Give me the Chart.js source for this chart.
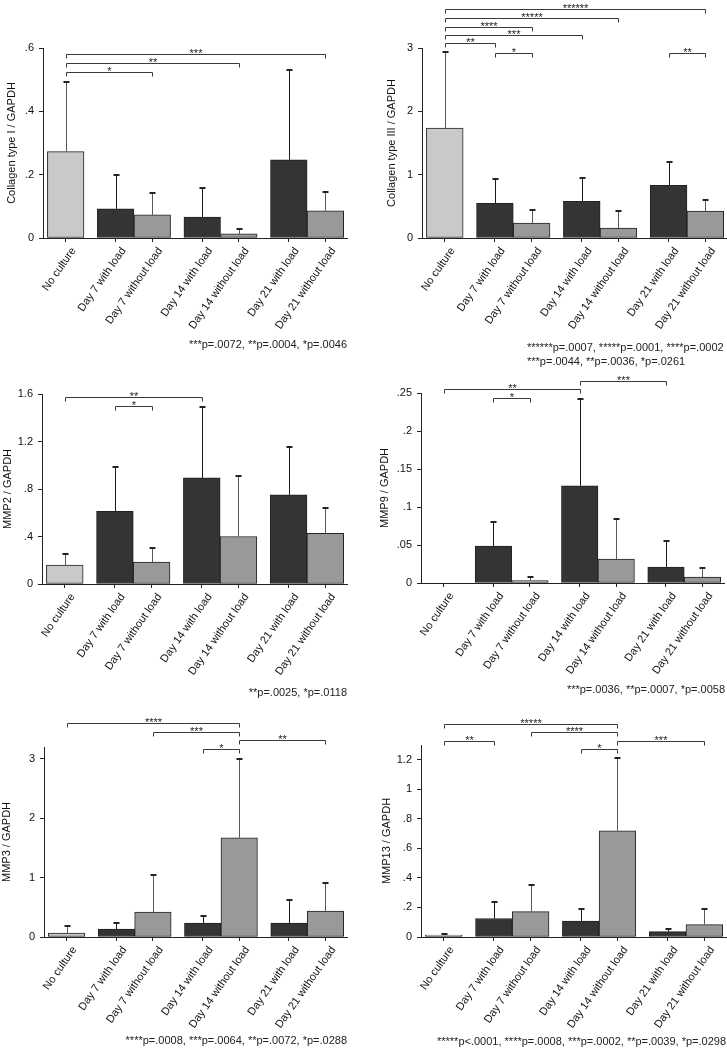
<!DOCTYPE html>
<html>
<head>
<meta charset="utf-8">
<script src="https://cdn.jsdelivr.net/npm/chart.js@4.4.0/dist/chart.umd.min.js"></script>
<style>
  body { margin: 0; background: #fff; width: 727px; height: 1050px; position: relative; overflow: hidden; }
  canvas { position: absolute; }
</style>
</head>
<body>
<canvas id="c1" width="364" height="360" style="left:0;top:0"></canvas>
<canvas id="c2" width="363" height="372" style="left:364px;top:0"></canvas>
<canvas id="c3" width="364" height="340" style="left:0;top:360px"></canvas>
<canvas id="c4" width="363" height="340" style="left:364px;top:360px"></canvas>
<canvas id="c5" width="364" height="350" style="left:0;top:700px"></canvas>
<canvas id="c6" width="363" height="350" style="left:364px;top:700px"></canvas>
<script>
// groups of the x axis
const categories = ['No culture', 'Day 7 with load', 'Day 7 without load', 'Day 14 with load',
  'Day 14 without load', 'Day 21 with load', 'Day 21 without load'];
const groupOf = [0, 1, 1, 2, 2, 3, 3];

// Collagen type I
const col1Mean  = [0.273, 0.092, 0.073, 0.066, 0.013, 0.247, 0.086];
const col1Upper = [0.494, 0.200, 0.142, 0.157, 0.030, 0.531, 0.144];
const col1Ticks = [0, 0.2, 0.4, 0.6];
const col1Sig   = [[0, 2, '*'], [0, 4, '**'], [0, 6, '***']];
const col1Notes = ['***p=.0072, **p=.0004, *p=.0046'];

// Collagen type III
const col3Mean  = [1.737, 0.547, 0.237, 0.579, 0.158, 0.832, 0.426];
const col3Upper = [2.937, 0.937, 0.437, 0.953, 0.426, 1.200, 0.595];
const col3Ticks = [0, 1, 2, 3];
const col3Sig   = [[0, 6, '******'], [0, 4, '*****'], [0, 2, '****'], [0, 3, '***'],
  [0, 1, '**'], [1, 2, '*'], [5, 6, '**']];
const col3Notes = ['******p=.0007, *****p=.0001, ****p=.0002', '***p=.0044, **p=.0036, *p=.0261'];

// MMP2
const mmp2Mean  = [0.160, 0.611, 0.185, 0.894, 0.400, 0.751, 0.426];
const mmp2Upper = [0.249, 0.986, 0.305, 1.493, 0.910, 1.151, 0.644];
const mmp2Ticks = [0, 0.4, 0.8, 1.2, 1.6];
const mmp2Sig   = [[0, 3, '**'], [1, 2, '*']];
const mmp2Notes = ['**p=.0025, *p=.0118'];

// MMP9
const mmp9Mean  = [0, 0.0487, 0.0031, 0.128, 0.0316, 0.021, 0.0079];
const mmp9Upper = [null, 0.0798, 0.0079, 0.2425, 0.0838, 0.0548, 0.0197];
const mmp9Ticks = [0, 0.05, 0.1, 0.15, 0.2, 0.25];
const mmp9Sig   = [[0, 3, '**'], [3, 5, '***'], [1, 2, '*']];
const mmp9Notes = ['***p=.0036, **p=.0007, *p=.0058'];

// MMP3
const mmp3Mean  = [0.067, 0.134, 0.419, 0.235, 1.67, 0.235, 0.436];
const mmp3Upper = [0.180, 0.235, 1.050, 0.346, 2.994, 0.615, 0.916];
const mmp3Ticks = [0, 1, 2, 3];
const mmp3Sig   = [[0, 4, '****'], [2, 4, '***'], [4, 6, '**'], [3, 4, '*']];
const mmp3Notes = ['****p=.0008, ***p=.0064, **p=.0072, *p=.0288'];

// MMP13
const mmp13Mean  = [0.0136, 0.125, 0.172, 0.107, 0.719, 0.036, 0.084];
const mmp13Upper = [0.023, 0.234, 0.349, 0.190, 1.211, 0.054, 0.190];
const mmp13Ticks = [0, 0.2, 0.4, 0.6, 0.8, 1, 1.2];
const mmp13Sig   = [[0, 4, '*****'], [2, 4, '****'], [0, 1, '**'], [4, 6, '***'], [3, 4, '*']];
const mmp13Notes = ['*****p<.0001, ****p=.0008, ***p=.0002, **p=.0039, *p=.0298'];

Chart.defaults.font.family = '"Liberation Sans", Arial, sans-serif';
Chart.defaults.font.size = 11;
Chart.defaults.color = '#111';

const GAP = 0.365;
const xPos = groupOf.map((g, i) => i + GAP * g);
const X_MIN = -0.62;
const X_MAX = 6 + 3 * GAP + 0.59;
const barColors = categories.map((c, i) => i === 0 ? '#c9c9c9' : (i % 2 ? '#343434' : '#999999'));
const fmt = v => v === 0 ? '0' : String(v).replace(/^0\./, '.');

const extras = {
  id: 'extras',
  afterDatasetsDraw(chart, args, opts) {
    const ctx = chart.ctx, ys = chart.scales.y;
    ctx.save();
    chart.getDatasetMeta(0).data.forEach((bar, i) => {
      const top = opts.upper[i];
      if (top == null) return;
      const yTop = Math.round(ys.getPixelForValue(top));
      const x = Math.round(bar.x) + 0.5;
      ctx.strokeStyle = i % 2 ? '#1a1a1a' : '#5a5a5a';
      ctx.lineWidth = 1;
      ctx.beginPath();
      ctx.moveTo(x, bar.y);
      ctx.lineTo(x, yTop);
      ctx.stroke();
      ctx.fillStyle = '#222';
      ctx.fillRect(x - 3, yTop - 1, 6, 2);
    });
    ctx.restore();
  },
  afterDraw(chart, args, opts) {
    const ctx = chart.ctx, xs = chart.scales.x;
    ctx.save();
    ctx.strokeStyle = '#3a3a3a';
    ctx.fillStyle = '#222';
    ctx.lineWidth = 1;
    ctx.font = '11px "Liberation Sans", Arial, sans-serif';
    opts.sig.forEach((s, k) => {
      const y = Math.round(opts.sigY[k]) + 0.5;
      const x1 = Math.round(xs.getPixelForValue(xPos[s[0]])) + 0.5;
      const x2 = Math.round(xs.getPixelForValue(xPos[s[1]])) + 0.5;
      ctx.beginPath();
      ctx.moveTo(x1, y + 4);
      ctx.lineTo(x1, y);
      ctx.lineTo(x2, y);
      ctx.lineTo(x2, y + 4);
      ctx.stroke();
      ctx.textAlign = 'center';
      ctx.textBaseline = 'alphabetic';
      ctx.fillText(s[2], (x1 + x2) / 2, y + 2);
    });
    ctx.textAlign = opts.noteAlign;
    ctx.textBaseline = 'middle';
    opts.notes.forEach((t, k) => ctx.fillText(t, opts.noteX, opts.noteY[k]));
    ctx.restore();
  }
};

function makePanel(id, mean, upper, yTicks, yMax, title, sig, notes, box) {
  new Chart(document.getElementById(id), {
    type: 'bar',
    data: {
      datasets: [{
        data: mean.map((v, i) => ({ x: xPos[i], y: v })),
        backgroundColor: barColors,
        borderColor: '#222',
        borderWidth: 1,
        borderSkipped: false,
        categoryPercentage: 1,
        barPercentage: 1
      }]
    },
    options: {
      responsive: false,
      animation: false,
      layout: { padding: { top: box.top, right: box.right, left: 0, bottom: 0 } },
      plugins: {
        legend: { display: false },
        tooltip: { enabled: false },
        extras: {
          upper: upper, sig: sig, sigY: box.sigY, notes: notes,
          noteAlign: box.noteAlign, noteX: box.noteX, noteY: box.noteY
        }
      },
      scales: {
        x: {
          type: 'linear',
          min: X_MIN,
          max: X_MAX,
          offset: false,
          afterBuildTicks: ax => { ax.ticks = xPos.map(v => ({ value: v })); },
          afterFit: ax => { ax.height = box.bottom; },
          grid: { drawOnChartArea: false, drawTicks: true, tickLength: 4, color: '#222', offset: false },
          border: { color: '#222' },
          ticks: {
            autoSkip: false, minRotation: 55, maxRotation: 55, padding: 3, labelOffset: 8,
            callback: (v, i) => categories[i]
          }
        },
        y: {
          min: 0,
          max: yMax,
          afterBuildTicks: ax => { ax.ticks = yTicks.map(v => ({ value: v })); },
          afterFit: ax => { ax.width = box.left; },
          grid: { drawOnChartArea: false, drawTicks: true, tickLength: 4, color: '#222' },
          border: { color: '#222' },
          ticks: { padding: 5, callback: v => fmt(v) },
          title: { display: true, text: title, padding: { top: box.titlePad, bottom: 0 } }
        }
      }
    },
    plugins: [extras]
  });
}

makePanel('c1', col1Mean, col1Upper, col1Ticks, 0.6, 'Collagen type I / GAPDH', col1Sig, col1Notes,
  { top: 48, right: 17, left: 43, bottom: 122, titlePad: 5.4, sigY: [71.7, 63, 54],
    noteAlign: 'right', noteX: 347, noteY: [345] });
makePanel('c2', col3Mean, col3Upper, col3Ticks, 3, 'Collagen type III / GAPDH', col3Sig, col3Notes,
  { top: 48, right: 0, left: 58, bottom: 134, titlePad: 21.4, sigY: [9.3, 17.7, 26.7, 35, 43.3, 52.7, 52.7],
    noteAlign: 'left', noteX: 163, noteY: [348, 361.7] });
makePanel('c3', mmp2Mean, mmp2Upper, mmp2Ticks, 1.6, 'MMP2 / GAPDH', mmp2Sig, mmp2Notes,
  { top: 34, right: 17, left: 42, bottom: 116, titlePad: 1.7, sigY: [36.7, 45.7],
    noteAlign: 'right', noteX: 347, noteY: [333] });
makePanel('c4', mmp9Mean, mmp9Upper, mmp9Ticks, 0.25, 'MMP9 / GAPDH', mmp9Sig, mmp9Notes,
  { top: 33, right: 3, left: 57, bottom: 117, titlePad: 14.4, sigY: [29.3, 20.7, 37.7],
    noteAlign: 'right', noteX: 361, noteY: [330] });
makePanel('c5', mmp3Mean, mmp3Upper, mmp3Ticks, 3.2, 'MMP3 / GAPDH', mmp3Sig, mmp3Notes,
  { top: 47, right: 17, left: 44, bottom: 113, titlePad: 0.7, sigY: [23.3, 32.3, 40, 49],
    noteAlign: 'right', noteX: 347, noteY: [341] });
makePanel('c6', mmp13Mean, mmp13Upper, mmp13Ticks, 1.3, 'MMP13 / GAPDH', mmp13Sig, mmp13Notes,
  { top: 45, right: 1, left: 57, bottom: 113, titlePad: 16.7, sigY: [23.7, 32.3, 40.7, 40.7, 49.3],
    noteAlign: 'right', noteX: 362, noteY: [341.7] });
</script>
</body>
</html>
